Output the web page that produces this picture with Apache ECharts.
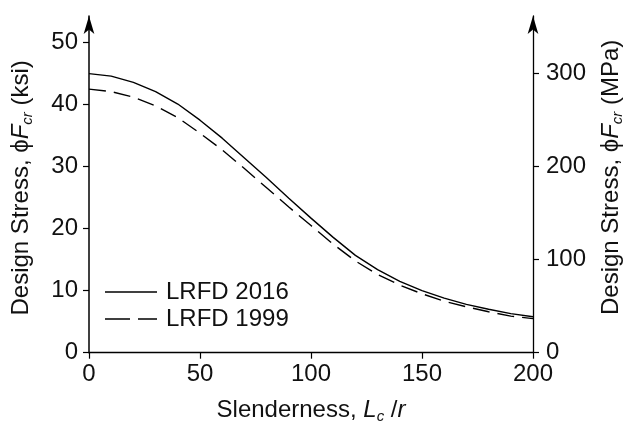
<!DOCTYPE html>
<html>
<head>
<meta charset="utf-8">
<script src="https://cdn.jsdelivr.net/npm/echarts@6/dist/echarts.min.js"></script>
<style>
html,body{margin:0;padding:0;background:#fff;}
#chart{width:628px;height:426px;}
</style>
</head>
<body>
<div id="chart"></div>
<script>
// Data
const slenderness = [0,10,20,30,40,50,60,70,80,90,100,110,120,130,140,150,160,170,180,190,200];
const lrfd2016 = [45.0,44.6,43.6,42.1,40.1,37.5,34.6,31.4,28.2,24.9,21.7,18.6,15.7,13.4,11.5,10.0,8.8,7.8,7.0,6.3,5.8];
const lrfd1999 = [42.5,42.1,41.2,39.8,37.9,35.4,32.7,29.7,26.6,23.5,20.5,17.5,14.8,12.6,10.9,9.5,8.3,7.4,6.6,5.9,5.5];
const ksiTicks = [0,10,20,30,40,50];
const mpaTicks = [0,100,200,300];
const xTicks = [0,50,100,150,200];
const seriesNames = ['LRFD 2016','LRFD 1999'];

const FONT = '"Liberation Sans", Arial, sans-serif';
const TXT = '#111';

const pair = (xs, ys) => xs.map((x, i) => [x, ys[i]]);

const richName = {
  t: {fontSize: 24, fontFamily: FONT, color: TXT, lineHeight: 28},
  i: {fontSize: 24, fontFamily: FONT, color: TXT, fontStyle: 'italic', lineHeight: 28},
  s: {fontSize: 15, fontFamily: FONT, color: TXT, fontStyle: 'italic', verticalAlign: 'bottom', lineHeight: 15}
};

const chart = echarts.init(document.getElementById('chart'), null, {renderer: 'canvas'});
chart.setOption({
  backgroundColor: '#fff',
  animation: false,
  grid: {left: 89, right: 95, top: 16, bottom: 73.3, outerBoundsMode: 'none', containLabel: false},
  legend: {
    data: [
      {name: seriesNames[0], icon: 'path://M0,0h52v1.5h-52z'},
      {name: seriesNames[1], icon: 'path://M0,0h25v1.5h-25zM33,0h19v1.5h-19z'}
    ],
    orient: 'vertical',
    left: 100,
    top: 275,
    itemWidth: 52,
    itemHeight: 1.5,
    itemGap: 3,
    textStyle: {fontSize: 24, fontFamily: FONT, color: TXT, padding: [0,0,0,4]}
  },
  xAxis: {
    type: 'value',
    min: 0, max: 200, interval: 50,
    axisLine: {show: true, onZero: false, lineStyle: {color: '#000', width: 1.3}},
    axisTick: {show: true, inside: false, length: 6, customValues: xTicks, lineStyle: {color: '#000', width: 1.2}},
    axisLabel: {customValues: xTicks, fontSize: 24, fontFamily: FONT, color: TXT, margin: 10},
    splitLine: {show: false},
    name: '{t|Slenderness, }{i|L}{s|c}{t| /}{i|r}',
    nameLocation: 'middle',
    nameGap: 44,
    nameTextStyle: {rich: richName}
  },
  yAxis: [{
    type: 'value',
    position: 'left',
    min: 0, max: 54.3, interval: 10,
    axisLine: {show: true, onZero: false, symbol: ['none','arrow'], symbolSize: [8, 18], lineStyle: {color: '#000', width: 1.5}},
    axisTick: {show: true, inside: false, length: 6, customValues: ksiTicks, lineStyle: {color: '#000', width: 1.2}},
    axisLabel: {customValues: ksiTicks, fontSize: 24, fontFamily: FONT, color: TXT, margin: 11},
    splitLine: {show: false},
    name: '{t|Design Stress, ϕ}{i|F}{s|cr}{t| (ksi)}',
    nameLocation: 'middle',
    nameRotate: 90,
    nameGap: 54,
    nameTextStyle: {rich: richName, padding: [0, 7, 0, 0]}
  }, {
    type: 'value',
    position: 'right',
    min: 0, max: 362, interval: 100,
    axisLine: {show: true, onZero: false, symbol: ['none','arrow'], symbolSize: [8, 18], lineStyle: {color: '#000', width: 1.3}},
    axisTick: {show: true, inside: false, length: 6, customValues: mpaTicks, lineStyle: {color: '#000', width: 1.2}},
    axisLabel: {customValues: mpaTicks, fontSize: 24, fontFamily: FONT, color: TXT, margin: 13},
    splitLine: {show: false},
    name: '{t|Design Stress, ϕ}{i|F}{s|cr}{t| (MPa)}',
    nameLocation: 'middle',
    nameRotate: 90,
    nameGap: 64,
    nameTextStyle: {rich: richName, padding: [0, 0, 0, 14]}
  }],
  series: [{
    name: seriesNames[0],
    type: 'line',
    data: pair(slenderness, lrfd2016),
    yAxisIndex: 0,
    showSymbol: false,
    symbol: 'none',
    smooth: false,
    lineStyle: {color: '#000', width: 1.4, type: 'solid'},
    itemStyle: {color: '#000'}
  }, {
    name: seriesNames[1],
    type: 'line',
    data: pair(slenderness, lrfd1999),
    yAxisIndex: 0,
    showSymbol: false,
    symbol: 'none',
    smooth: false,
    lineStyle: {color: '#000', width: 1.4, type: [17, 8]},
    itemStyle: {color: '#000'}
  }]
});
</script>
</body>
</html>
